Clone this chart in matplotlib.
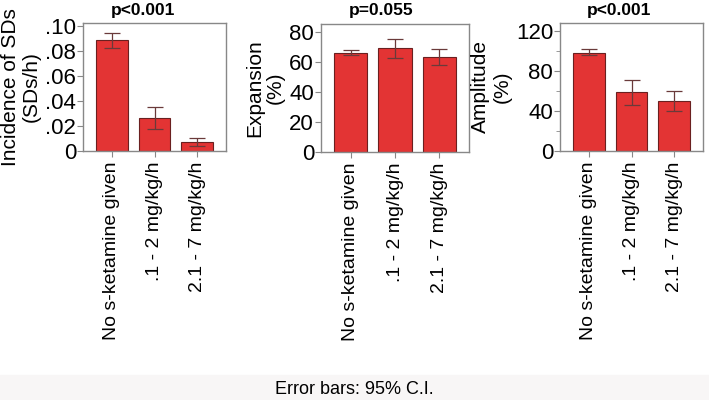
import numpy as np
import matplotlib.pyplot as plt
from matplotlib.ticker import FixedLocator, FuncFormatter

plt.rcParams['font.family'] = ['Liberation Sans', 'DejaVu Sans']

groups = ['No s-ketamine given', '.1 - 2 mg/kg/h', '2.1 - 7 mg/kg/h']

# incidence of SDs (SDs/h)
incidence = [0.0886, 0.0267, 0.0069]
incidence_lo = [0.0821, 0.0173, 0.0040]
incidence_hi = [0.0946, 0.0355, 0.0104]

# expansion (%)
expansion = [65.7, 68.8, 63.1]
expansion_lo = [64.2, 62.4, 57.8]
expansion_hi = [67.5, 75.0, 68.4]

# amplitude (%)
amplitude = [98.4, 58.7, 50.2]
amplitude_lo = [95.8, 46.3, 40.0]
amplitude_hi = [101.7, 71.2, 60.3]

titles = ['p<0.001', 'p=0.055', 'p<0.001']
ylabels = ['Incidence of SDs\n(SDs/h)', 'Expansion\n(%)', 'Amplitude\n(%)']

W, H = 709, 400
fig = plt.figure(figsize=(W / 100, H / 100), dpi=100)

# footer band
fig.patches.append(plt.Rectangle((0, 0), 1, 25 / H, transform=fig.transFigure,
                                 color='#f8f6f6', zorder=0))
fig.text(0.5, 11 / H, 'Error bars: 95% C.I.', ha='center', va='center', fontsize=13)

# axes boxes in pixels: left, right, top, bottom
boxes = [(83, 226, 23, 151), (321, 469, 24, 152), (560, 703, 23, 151)]
title_x = [143, 381, 619]
data = [(incidence, incidence_lo, incidence_hi),
        (expansion, expansion_lo, expansion_hi),
        (amplitude, amplitude_lo, amplitude_hi)]
ylims = [0.1024, 85, 128]
yticks = [np.arange(0, 0.101, 0.02), np.arange(0, 81, 20), np.arange(0, 121, 40)]


def dotfmt(v, pos):
    if v == 0:
        return '0'
    return ('%.2f' % v)[1:]


for i in range(3):
    l, r, t, b = boxes[i]
    ax = fig.add_axes([l / W, 1 - b / H, (r - l) / W, (b - t) / H])
    vals, lo, hi = data[i]
    x = np.arange(len(groups))
    vals = np.array(vals)
    err = [vals - np.array(lo), np.array(hi) - vals]
    ax.bar(x, vals, width=0.75, color='#e33434', edgecolor='#6a2020', linewidth=0.8)
    ax.errorbar(x, vals, yerr=err, fmt='none', ecolor='#6a3a3a', elinewidth=0.9,
                capsize=6, capthick=0.9)
    ax.set_xlim(-0.68, 2.68)
    ax.set_ylim(0, ylims[i])
    ax.set_yticks(yticks[i])
    if i == 0:
        ax.yaxis.set_major_formatter(FuncFormatter(dotfmt))
    if i == 2:
        ax.yaxis.set_minor_locator(FixedLocator([20, 60, 100]))
        ax.tick_params(axis='y', which='minor', length=3, color='#888888')
    ax.set_xticks(x)
    ax.set_xticklabels(groups, rotation=90, fontsize=14)
    ax.tick_params(axis='y', labelsize=16, length=4, color='#888888', pad=1)
    ax.tick_params(axis='x', length=4, color='#888888')
    for s in ax.spines.values():
        s.set_color('#888888')
        s.set_linewidth(1.0)
    fig.text(title_x[i] / W, 1 - 11 / H, titles[i], ha='center', va='center',
             fontsize=12.5, fontweight='bold')
    ax.set_ylabel(ylabels[i], fontsize=15, labelpad=3, linespacing=1.15)

fig.savefig('out.png', dpi=100)
